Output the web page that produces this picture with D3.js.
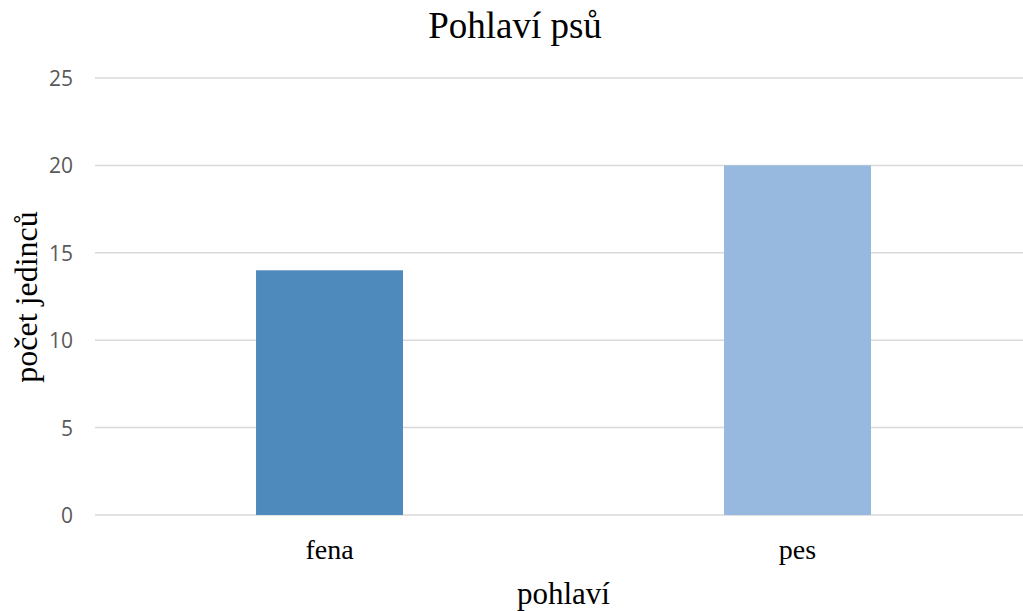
<!DOCTYPE html>
<meta charset="utf-8">
<style>
body { margin: 0; background: #fff; }
.grid line { stroke: #d9d9d9; stroke-width: 1.5; }
.ytick text { fill: #595959; font: 21px "Open Sans", "Liberation Sans", sans-serif; }
.serif { font-family: "Liberation Serif", "Times New Roman", serif; fill: #000; }
</style>
<svg width="1023" height="611"></svg>
<script src="https://d3js.org/d3.v7.min.js"></script>
<script>

var categories = ["fena", "pes"];
var values = [14, 20];
var colors = ["#4f8abd", "#97b9df"];
var yTicks = [0, 5, 10, 15, 20, 25];

var svg = d3.select("svg");

var x = d3.scaleBand()
    .domain(categories)
    .range([95.5, 1031.5])
    .paddingInner(0.686)
    .paddingOuter(0.343);

var y = d3.scaleLinear()
    .domain([0, 25])
    .range([515, 78]);

// gridlines
svg.append("g")
    .attr("class", "grid")
    .selectAll("line")
    .data(yTicks)
  .enter().append("line")
    .attr("x1", 95)
    .attr("x2", 1031)
    .attr("y1", function(d) { return y(d); })
    .attr("y2", function(d) { return y(d); });

// y tick labels
svg.append("g")
    .attr("class", "ytick")
    .selectAll("text")
    .data(yTicks)
  .enter().append("text")
    .attr("x", 73)
    .attr("y", function(d) { return y(d) + 8; })
    .attr("text-anchor", "end")
    .text(function(d) { return d; });

// bars
svg.append("g")
    .selectAll("rect")
    .data(values)
  .enter().append("rect")
    .attr("x", function(d, i) { return x(categories[i]); })
    .attr("width", x.bandwidth())
    .attr("y", function(d) { return y(d); })
    .attr("height", function(d) { return y(0) - y(d); })
    .attr("fill", function(d, i) { return colors[i]; });

// x tick labels
svg.append("g")
    .selectAll("text")
    .data(categories)
  .enter().append("text")
    .attr("class", "serif")
    .attr("x", function(d) { return x(d) + x.bandwidth() / 2; })
    .attr("y", 559)
    .attr("text-anchor", "middle")
    .style("font-size", "28px")
    .text(function(d) { return d; });

svg.append("text")
    .attr("class", "serif")
    .attr("x", 515)
    .attr("y", 38)
    .attr("text-anchor", "middle")
    .style("font-size", "37px")
    .text("Pohlaví psů");

svg.append("text")
    .attr("class", "serif")
    .attr("x", 563.5)
    .attr("y", 604)
    .attr("text-anchor", "middle")
    .style("font-size", "31px")
    .text("pohlaví");

svg.append("text")
    .attr("class", "serif")
    .attr("transform", "translate(37,297) rotate(-90)")
    .attr("text-anchor", "middle")
    .style("font-size", "32px")
    .text("počet jedinců");

</script>
